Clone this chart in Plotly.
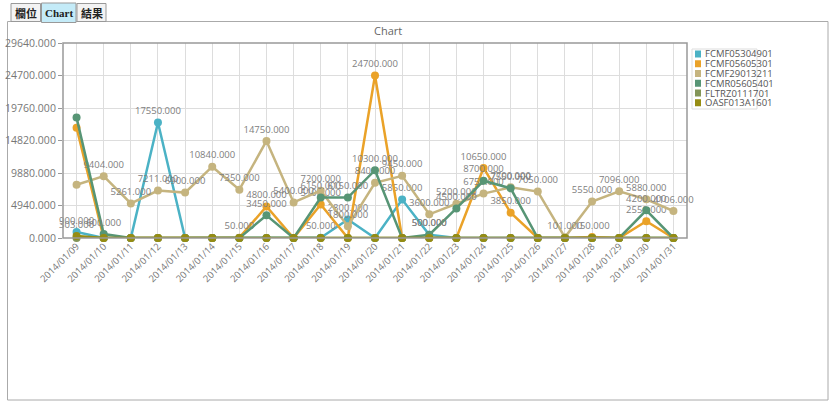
import plotly.graph_objects as go

# dates on the x axis
dates = ['2014/01/09', '2014/01/10', '2014/01/11', '2014/01/12', '2014/01/13', '2014/01/14',
         '2014/01/15', '2014/01/16', '2014/01/17', '2014/01/18', '2014/01/19', '2014/01/20',
         '2014/01/21', '2014/01/22', '2014/01/23', '2014/01/24', '2014/01/25', '2014/01/26',
         '2014/01/27', '2014/01/28', '2014/01/29', '2014/01/30', '2014/01/31']

# one list per item
fcmf05304901 = [900, 0, 0, 17550, 0, 0, 0, 0, 0, 50, 2800, 0, 5850, 500, 0, 0, 0, 0, 0, 0, 0, 0, 0]
fcmf05605301 = [16750, 0, 0, 0, 0, 0, 50, 4800, 0, 5100, 0, 24700, 0, 0, 0, 10650, 3850, 0, 0, 150, 0, 2550, 0]
fcmf29013211 = [8100, 9404, 5261, 7211, 6900, 10840, 7350, 14750, 5400, 7200, 1800, 8400, 9450, 3600, 5200,
                6750, 7700, 7050, 101, 5550, 7096, 5880, 4106]
fcmr05605401 = [18300, 600, 0, 0, 0, 0, 0, 3450, 0, 6150, 6150, 10300, 0, 500, 4500, 8700, 7550, 0, 0, 0, 0, 4200, 0]
fltrz0111701 = [0] * 23
oasf013a1601 = [303, 0, 0, 0, 0, 0, 0, 0, 0, 0, 0, 0, 0, 0, 0, 0, 0, 0, 0, 0, 0, 0, 0]

series_names = ['FCMF05304901', 'FCMF05605301', 'FCMF29013211', 'FCMR05605401', 'FLTRZ0111701', 'OASF013A1601']
series_values = [fcmf05304901, fcmf05605301, fcmf29013211, fcmr05605401, fltrz0111701, oasf013a1601]
colors = ['#4bb2c5', '#eaa228', '#c5b47f', '#579575', '#839557', '#958c12']

y_ticks = [0, 4940, 9880, 14820, 19760, 24700, 29640]

W, H = 834, 405
font = 'Open Sans, DejaVu Sans, sans-serif'


def px(x):
    return x / W


def py(y):
    return 1 - y / H


fig = go.Figure()

for name, vals, c in zip(series_names, series_values, colors):
    # zero values get no label; wide labels on the first date fall off the grid edge and are hidden
    labels = []
    for i, v in enumerate(vals):
        txt = '%.3f' % v if v != 0 else ''
        if i == 0 and v >= 1000:
            txt = ''
        labels.append(txt)
    fig.add_trace(go.Scatter(x=dates, y=vals, name=name, mode='lines+markers+text',
                             line=dict(color=c, width=2.5), marker=dict(color=c, size=8),
                             text=labels, textposition='top center',
                             textfont=dict(size=9.5, color='#808080', family=font),
                             cliponaxis=False, showlegend=False, hoverinfo='x+y+name'))

shapes = []
annotations = []

# outer panel + tabs
shapes.append(dict(type='rect', xref='paper', yref='paper', x0=px(7.5), x1=px(828), y0=py(400), y1=py(21.5),
                   line=dict(color='#aaaaaa', width=1), fillcolor='white', layer='below'))
tabs = [('欄位', 11, 40.5, '#f3f3f3', 'Noto Sans CJK TC'),
        ('Chart', 41.5, 76, '#c4ebf8', 'Liberation Serif'),
        ('結果', 77, 106, '#f3f3f3', 'Noto Sans CJK TC')]
for label, x0, x1, fill, fam in tabs:
    top = 3 if label == 'Chart' else 3.5
    bot = 22.5 if label == 'Chart' else 21.5
    shapes.append(dict(type='rect', xref='paper', yref='paper', x0=px(x0), x1=px(x1), y0=py(bot), y1=py(top),
                       line=dict(color='#999999', width=1), fillcolor=fill, layer='below'))
    annotations.append(dict(x=px((x0 + x1) / 2), y=py(13), xref='paper', yref='paper', text='<b>' + label + '</b>',
                            showarrow=False, xanchor='center', yanchor='middle',
                            font=dict(size=11, color='#222222', family=fam)))

# plot border
shapes.append(dict(type='rect', xref='paper', yref='paper', x0=px(63), x1=px(687), y0=py(238), y1=py(43),
                   line=dict(color='#999999', width=1.5)))

# legend
shapes.append(dict(type='rect', xref='paper', yref='paper', x0=px(692), x1=px(757), y0=py(109), y1=py(49),
                   line=dict(color='#dddddd', width=1), fillcolor='white'))
for i, (name, c) in enumerate(zip(series_names, colors)):
    yc = 54 + i * 9.75
    shapes.append(dict(type='rect', xref='paper', yref='paper', x0=px(695), x1=px(701), y0=py(yc + 3.5),
                       y1=py(yc - 3.5), line=dict(width=0), fillcolor=c))
    annotations.append(dict(x=px(703), y=py(yc), xref='paper', yref='paper', text=name, showarrow=False,
                            xanchor='left', yanchor='middle', font=dict(size=9.5, color='#555555', family=font)))

# chart title
annotations.append(dict(x=px(388), y=py(31), xref='paper', yref='paper', text='Chart', showarrow=False,
                        xanchor='center', yanchor='middle', font=dict(size=11, color='#666666', family=font)))

fig.update_layout(
    width=W, height=H,
    margin=dict(l=0, r=0, t=0, b=0, pad=0, autoexpand=False),
    paper_bgcolor='white',
    plot_bgcolor='#fffdf6',
    showlegend=False,
    shapes=shapes,
    annotations=annotations,
    xaxis=dict(domain=[px(63), px(687)], type='category', range=[-0.5, 22.5], automargin=False,
               showgrid=True, gridcolor='#dddddd', tickangle=-45, ticks='',
               tickfont=dict(size=9.5, color='#777777', family=font), zeroline=False),
    yaxis=dict(domain=[py(238), py(43)], range=[0, 29640], tickvals=y_ticks, automargin=False,
               ticktext=['%.3f' % v for v in y_ticks], showgrid=True, gridcolor='#dddddd',
               ticks='outside', ticklen=4, tickcolor='#999999',
               tickfont=dict(size=10.5, color='#777777', family=font), zeroline=False),
)

# drop the browser's default page margin so the figure sits at the window corner
fig.write_html("out.html", config=dict(displayModeBar=False),
               post_script="document.body.style.margin='0';")
